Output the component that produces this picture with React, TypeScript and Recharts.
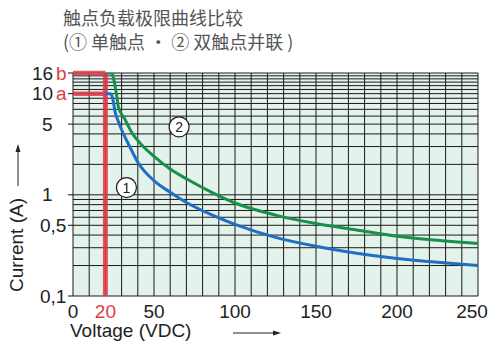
import React from 'react';
import { ComposedChart, Line, XAxis, YAxis, ReferenceLine, ReferenceDot, ReferenceArea } from 'recharts';

// ---- data ----
const xTicks = [0, 20, 50, 100, 150, 200, 250];
const yTicks = [0.1, 0.5, 1, 5, 10, 16];
const yTickText: Record<string, string> = { '0.1': '0,1', '0.5': '0,5', '1': '1', '5': '5', '10': '10', '16': '16' };
const yTickSuffix: Record<string, string> = { '10': 'a', '16': 'b' };
const vGrid = [0, 10, 20, 30, 40, 50, 60, 70, 80, 90, 100, 110, 120, 130, 140, 150, 160, 170, 180, 190, 200, 210, 220, 230, 240, 250];
const hGrid = [0.1, 0.2, 0.3, 0.4, 0.5, 0.6, 0.7, 0.8, 0.9, 1, 2, 3, 4, 5, 6, 7, 8, 9, 10, 11, 12, 13, 14, 15, 16];

// curve 1: single contact
const singleVoltage = [20, 23, 24.5, 26, 28, 30, 35, 40, 50, 60, 70, 85, 100, 125, 150, 175, 200, 225, 250];
const singleCurrent = [10, 10, 9, 6.6, 5.3, 4.4, 3.0, 2.1, 1.38, 1.06, 0.84, 0.64, 0.51, 0.38, 0.31, 0.265, 0.235, 0.215, 0.2];
// curve 2: double contacts in parallel
const doubleVoltage = [20, 24, 25.5, 27, 28, 32, 36, 43.4, 50, 60, 70, 85, 100, 125, 150, 175, 200, 225, 250];
const doubleCurrent = [16, 16, 13, 9.5, 7.4, 5.6, 4.2, 3.0, 2.4, 1.8, 1.44, 1.07, 0.83, 0.63, 0.52, 0.45, 0.39, 0.355, 0.33];

// limits
const limitVoltage = 20;
const limitA = 10;
const limitB = 16;

// curve markers
const marker1 = { v: 33, i: 1.18, label: '1' };
const marker2 = { v: 65.5, i: 4.7, label: '2' };

const singleData = singleVoltage.map((v, k) => ({ v, i: singleCurrent[k] }));
const doubleData = doubleVoltage.map((v, k) => ({ v, i: doubleCurrent[k] }));

const FONT = '"Liberation Sans", Arial, sans-serif';
const RED = '#e23a48';

const YTick = (props: any) => {
  const { y, payload } = props;
  const key = String(payload.value);
  const xs: Record<string, number> = { '16': 32, '10': 32, '5': 42, '1': 42, '0.5': 40, '0.1': 40 };
  return (
    <g>
      <line x1={68} x2={73} y1={y} y2={y} stroke="#111" strokeWidth={1} />
      <text x={xs[key]} y={y + 6.5} fontSize={19} fontFamily={FONT} fill="#222" textAnchor="start">
        {yTickText[key]}
      </text>
      {yTickSuffix[key] && (
        <text x={56} y={y + 6.5} fontSize={19} fontFamily={FONT} fill={RED} textAnchor="start">
          {yTickSuffix[key]}
        </text>
      )}
    </g>
  );
};

const XTick = (props: any) => {
  const { x, payload } = props;
  const last = payload.value === xTicks[xTicks.length - 1];
  return (
    <text x={last ? x - 6 : x} y={318} fontSize={19} fontFamily={FONT} fill={payload.value === limitVoltage ? RED : '#222'} textAnchor="middle">
      {payload.value}
    </text>
  );
};

const CircleLabel = (props: any) => {
  const { cx, cy, label } = props;
  return (
    <g>
      <circle cx={cx} cy={cy} r={10} fill="#fff" stroke="#222" strokeWidth={1.2} />
      <text x={cx} y={cy + 5} fontSize={14} fontFamily={FONT} fill="#222" textAnchor="middle">{label}</text>
    </g>
  );
};

export default function App() {
  return (
    <div style={{ position: 'absolute', left: 0, top: 0, width: 490, height: 343, background: '#fff' }}>
      <ComposedChart width={490} height={343} margin={{ top: 73, right: 12, bottom: 0, left: 0 }}>
        <XAxis
          type="number"
          dataKey="v"
          domain={[0, 250]}
          ticks={xTicks}
          tick={<XTick />}
          interval={0}
          axisLine={false}
          tickLine={false}
          height={47}
          allowDataOverflow
        />
        <YAxis
          type="number"
          dataKey="i"
          scale="log"
          domain={[0.1, 16]}
          ticks={yTicks}
          tick={<YTick />}
          interval={0}
          axisLine={false}
          tickLine={false}
          width={73}
          allowDataOverflow
        />
        <ReferenceArea x1={0} x2={250} y1={0.1} y2={16} fill="#e4f2ec" fillOpacity={1} stroke="none" />
        {vGrid.map((v) => (
          <ReferenceLine key={'v' + v} x={v} stroke="#1a1a1a" strokeWidth={1} />
        ))}
        {hGrid.map((h) => (
          <ReferenceLine key={'h' + h} y={h} stroke="#1a1a1a" strokeWidth={1} />
        ))}
        <ReferenceLine segment={[{ x: limitVoltage, y: 0.1 }, { x: limitVoltage, y: limitB }]} stroke={RED} strokeOpacity={0.85} strokeWidth={5} />
        <ReferenceLine segment={[{ x: 0, y: limitB }, { x: limitVoltage, y: limitB }]} stroke={RED} strokeOpacity={0.85} strokeWidth={4.5} />
        <ReferenceLine segment={[{ x: 0, y: limitA }, { x: limitVoltage, y: limitA }]} stroke={RED} strokeOpacity={0.85} strokeWidth={4.5} />
        <Line data={doubleData} dataKey="i" type="monotone" stroke="#17904a" strokeWidth={3} dot={false} isAnimationActive={false} />
        <Line data={singleData} dataKey="i" type="monotone" stroke="#1f6fc4" strokeWidth={3} dot={false} isAnimationActive={false} />
        <ReferenceDot x={marker1.v} y={marker1.i} shape={(p: any) => <CircleLabel {...p} label={marker1.label} />} />
        <ReferenceDot x={marker2.v} y={marker2.i} shape={(p: any) => <CircleLabel {...p} label={marker2.label} />} />
      </ComposedChart>
      <svg width={490} height={343} style={{ position: 'absolute', left: 0, top: 0, pointerEvents: 'none' }}>
        <text x={63} y={25} fontSize={18} fontFamily='"Noto Sans CJK SC", sans-serif' fill="#555">触点负载极限曲线比较</text>
        <text x={63} y={49} fontSize={18} fontFamily='"Noto Sans CJK SC", sans-serif' fill="#555">(① 单触点 · ② 双触点并联 )</text>
        <text x={0} y={0} transform="translate(23,245) rotate(-90)" fontSize={19} fontFamily={FONT} fill="#222" textAnchor="middle">Current (A)</text>
        <line x1={18} y1={186} x2={18} y2={150} stroke="#222" strokeWidth={1} />
        <polygon points="18,144 15.5,152 20.5,152" fill="#222" />
        <text x={70} y={337} fontSize={19} fontFamily={FONT} fill="#222">Voltage (VDC)</text>
        <line x1={233} y1={333} x2={274} y2={333} stroke="#222" strokeWidth={1} />
        <polygon points="281,333 273,330.5 273,335.5" fill="#222" />
      </svg>
    </div>
  );
}
